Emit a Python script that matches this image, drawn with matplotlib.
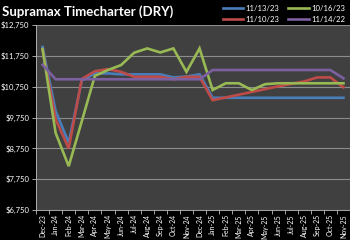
import numpy as np
import matplotlib.pyplot as plt
from matplotlib.ticker import FuncFormatter

plt.rcParams['font.family'] = ['Lato', 'DejaVu Sans']

# Данные
months = ['Dec-23', 'Jan-24', 'Feb-24', 'Mar-24', 'Apr-24', 'May-24', 'Jun-24', 'Jul-24',
          'Aug-24', 'Sep-24', 'Oct-24', 'Nov-24', 'Dec-24', 'Jan-25', 'Feb-25', 'Mar-25',
          'Apr-25', 'May-25', 'Jun-25', 'Jul-25', 'Aug-25', 'Sep-25', 'Oct-25', 'Nov-25']

s_111323 = [12040, 9960, 8930, 10950, 11180, 11180, 11150, 11150, 11150, 11150, 11050, 11080,
            11150, 10390, 10390, 10390, 10390, 10390, 10390, 10390, 10390, 10390, 10390, 10390]
s_111023 = [11950, 9690, 8750, 11000, 11250, 11320, 11230, 11070, 11070, 11070, 10990, 11070,
            11070, 10310, 10400, 10490, 10580, 10670, 10760, 10840, 10920, 11050, 11050, 10730]
s_101623 = [11970, 9250, 8170, 9630, 11100, 11290, 11450, 11850, 11990, 11860, 11990, 11230,
            11990, 10640, 10860, 10860, 10640, 10830, 10860, 10860, 10860, 10860, 10860, 10860]
s_111422 = [11460, 10990, 10990, 10990, 10990, 10990, 10990, 10990, 10990, 10990, 10990, 10990,
            10990, 11290, 11290, 11290, 11290, 11290, 11290, 11290, 11290, 11290, 11290, 11020]

series = [('11/13/23', s_111323, '#4a7ebb'),
          ('11/10/23', s_111023, '#be4b48'),
          ('10/16/23', s_101623, '#98b954'),
          ('11/14/22', s_111422, '#7d60a0')]

yticks = [6750, 7750, 8750, 9750, 10750, 11750, 12750]

fig = plt.figure(figsize=(3.5, 2.4), dpi=100, facecolor='black')
ax = fig.add_axes([36 / 350, 30 / 240, 314 / 350, 185 / 240])
ax.set_facecolor('#404040')

x = np.arange(len(months))
for label, vals, color in series:
    ax.plot(x, vals, color=color, lw=1.9, label=label, solid_joinstyle='miter')

ax.set_xlim(-0.5, len(months) - 0.5)
ax.set_ylim(6750, 12750)
ax.set_yticks(yticks)
ax.yaxis.set_major_formatter(FuncFormatter(lambda v, p: '${:,.0f}'.format(v)))
ax.grid(axis='y', color='#8c8c8c', lw=0.8)
ax.set_axisbelow(True)

ax.set_xticks(x)
ax.set_xticklabels(months, rotation=90)
ax.set_xticks(np.arange(-0.5, len(months)), minor=True)
ax.tick_params(axis='x', which='major', length=0, pad=3, labelsize=5.0, colors='white')
ax.tick_params(axis='x', which='minor', length=3, color='#bfbfbf', width=0.6)
ax.tick_params(axis='y', length=3, color='#bfbfbf', width=0.6, labelsize=5.5,
               colors='white', pad=2)

for s in ['top', 'right']:
    ax.spines[s].set_visible(False)
ax.spines['left'].set_color('#bfbfbf')
ax.spines['bottom'].set_color('#bfbfbf')
ax.spines['left'].set_linewidth(0.6)
ax.spines['bottom'].set_linewidth(0.6)

fig.text(0.006, 0.95, 'Supramax Timecharter (DRY)', color='white', fontsize=9.5,
         fontweight='bold', va='center', ha='left')

leg = fig.legend(loc='upper right', bbox_to_anchor=(1.0, 1.0), ncol=2, frameon=False,
                 fontsize=5.6, labelcolor='white', handlelength=2.6, columnspacing=1.2,
                 handletextpad=0.3, borderaxespad=0.25, labelspacing=0.45)

fig.savefig('out.png', dpi=100, facecolor='black')
